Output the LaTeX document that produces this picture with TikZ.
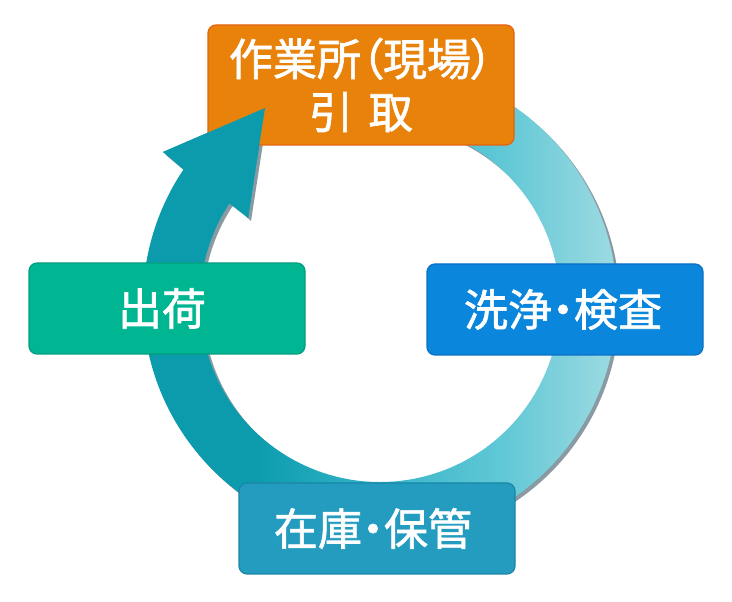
\documentclass[tikz,border=0pt]{standalone}
\usepackage{fontspec}
\newfontfamily\jpfont[RawFeature=+palt, FakeBold=1.5]{Noto Sans CJK JP}
\usetikzlibrary{positioning}

\definecolor{ringdark}{HTML}{0B9BAD}
\definecolor{ringmid}{HTML}{36B6C9}
\definecolor{ringpale}{HTML}{62C8D6}
\definecolor{ringlight}{HTML}{A8DEE4}
\definecolor{ringshadow}{HTML}{8A9AA3}
\definecolor{pickfill}{HTML}{E8820B}
\definecolor{pickline}{HTML}{E5630F}
\definecolor{washfill}{HTML}{0A86DC}
\definecolor{washline}{HTML}{0B6FC4}
\definecolor{stockfill}{HTML}{239CC0}
\definecolor{stockline}{HTML}{1A86A6}
\definecolor{shipfill}{HTML}{00B592}
\definecolor{shipline}{HTML}{009E80}

\pgfdeclarehorizontalshading{ringshade}{100bp}{color(0bp)=(ringdark); color(25bp)=(ringdark); color(37bp)=(ringdark); color(50bp)=(ringmid); color(62bp)=(ringpale); color(75bp)=(ringlight); color(100bp)=(ringlight)}

% ring with arrow head, centre at origin
\newcommand{\ringoutline}{(80:237) arc[start angle=80, end angle=-214, radius=237]
    -- (-217,150) -- (-115,194) -- (-132,84)
    -- (-214:180) arc[start angle=-214, end angle=80, radius=180] -- cycle}
\newcommand{\headoutline}{(-217,150) -- (-115,194) -- (-132,84) -- cycle}

\begin{document}
\begin{tikzpicture}[x=1pt, y=1pt,
    stage/.style={draw, line width=1.2pt, rounded corners=8pt, minimum width=276pt, minimum height=91pt, inner sep=0pt, align=center, text=white, font=\jpfont\fontsize{44}{53}\selectfont}
]
\useasboundingbox (0,0) rectangle (732,602);

\coordinate (c) at (380,300);
\begin{scope}[shift={(c)}]
\fill[ringshadow, shift={(3,-3)}] \ringoutline;
\shade[shading=ringshade] \ringoutline;
\end{scope}

\node[stage, fill=pickfill, draw=pickline, minimum width=306pt, minimum height=120pt] (pickup) at (361,517) {作業所（現場）\\引\hspace{0.35em}取};
\node[stage, fill=washfill, draw=washline] (wash) at (565,292.5) {洗浄・検査\hspace{4pt}};
\node[stage, fill=stockfill, draw=stockline] (stock) at (377,73.5) {在庫・保管\hspace{8pt}};
\node[stage, fill=shipfill, draw=shipline] (ship) at (167,293.5) {出荷\hspace{10pt}};

% arrow tip lies over the top box
\fill[ringdark, shift={(c)}] \headoutline;
\end{tikzpicture}
\end{document}
